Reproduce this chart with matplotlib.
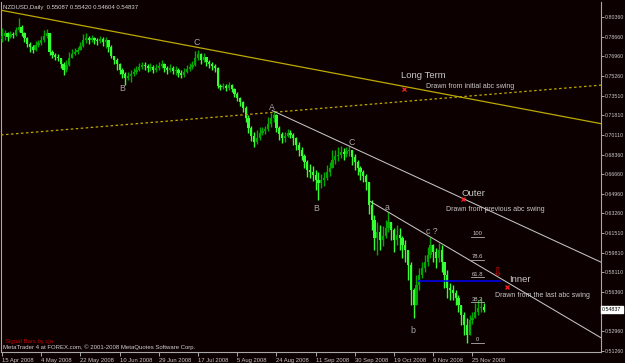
import matplotlib
matplotlib.use('Agg')
import matplotlib.pyplot as plt
import matplotlib.transforms as mtransforms
import numpy as np

# ---------------- data (NZDUSD daily) ----------------
opens = [0.7850, 0.7873, 0.7899, 0.7864, 0.7890, 0.7881, 0.7925, 0.7951, 0.7899, 0.7855,
         0.7803, 0.7777, 0.7751, 0.7794, 0.7812, 0.7838, 0.7873, 0.7899, 0.7733, 0.7707,
         0.7689, 0.7681, 0.7628, 0.7576, 0.7620, 0.7681, 0.7716, 0.7733, 0.7751, 0.7785,
         0.7838, 0.7855, 0.7838, 0.7855, 0.7838, 0.7829, 0.7847, 0.7820, 0.7838, 0.7777,
         0.7698, 0.7663, 0.7628, 0.7576, 0.7541, 0.7506, 0.7524, 0.7541, 0.7559, 0.7576,
         0.7602, 0.7620, 0.7611, 0.7593, 0.7602, 0.7576, 0.7593, 0.7611, 0.7628, 0.7593,
         0.7576, 0.7593, 0.7567, 0.7576, 0.7550, 0.7532, 0.7559, 0.7585, 0.7602, 0.7620,
         0.7681, 0.7716, 0.7663, 0.7689, 0.7646, 0.7628, 0.7611, 0.7593, 0.7436, 0.7428,
         0.7436, 0.7419, 0.7445, 0.7410, 0.7367, 0.7332, 0.7297, 0.7244, 0.7157, 0.7070,
         0.7000, 0.6947, 0.6982, 0.7026, 0.7043, 0.7061, 0.7104, 0.7157, 0.7183, 0.7070,
         0.7017, 0.6982, 0.7000, 0.7026, 0.7009, 0.6982, 0.6921, 0.6877, 0.6825, 0.6773,
         0.6703, 0.6685, 0.6659, 0.6616, 0.6589, 0.6616, 0.6633, 0.6685, 0.6720, 0.6790,
         0.6825, 0.6834, 0.6860, 0.6843, 0.6869, 0.6877, 0.6816, 0.6773, 0.6720, 0.6685,
         0.6651, 0.6598, 0.6397, 0.6266, 0.6109, 0.6162, 0.6092, 0.6127, 0.6197, 0.6249,
         0.6179, 0.6092, 0.6135, 0.6109, 0.6048, 0.6005, 0.5874, 0.5655, 0.5524, 0.5699,
         0.5786, 0.5847, 0.5900, 0.5961, 0.6048, 0.5987, 0.5935, 0.6005, 0.5900, 0.5786,
         0.5673, 0.5655, 0.5629, 0.5585, 0.5524, 0.5437, 0.5350, 0.5263, 0.5394, 0.5411,
         0.5463, 0.5498, 0.55087]

highs = [0.7943, 0.7925, 0.7908, 0.7916, 0.7908, 0.7951, 0.8030, 0.7969, 0.7908, 0.7864,
         0.7820, 0.7794, 0.7829, 0.7838, 0.7873, 0.7925, 0.7934, 0.7899, 0.7751, 0.7724,
         0.7716, 0.7681, 0.7646, 0.7663, 0.7733, 0.7759, 0.7768, 0.7777, 0.7820, 0.7890,
         0.7899, 0.7873, 0.7881, 0.7864, 0.7855, 0.7873, 0.7864, 0.7864, 0.7820, 0.7794,
         0.7698, 0.7681, 0.7637, 0.7593, 0.7559, 0.7559, 0.7576, 0.7593, 0.7611, 0.7637,
         0.7646, 0.7646, 0.7628, 0.7637, 0.7620, 0.7628, 0.7646, 0.7663, 0.7637, 0.7611,
         0.7628, 0.7611, 0.7611, 0.7593, 0.7576, 0.7593, 0.7620, 0.7637, 0.7655, 0.7742,
         0.7751, 0.7724, 0.7724, 0.7689, 0.7663, 0.7646, 0.7628, 0.7602, 0.7454, 0.7462,
         0.7454, 0.7471, 0.7454, 0.7419, 0.7384, 0.7340, 0.7305, 0.7262, 0.7183, 0.7087,
         0.7035, 0.7052, 0.7078, 0.7078, 0.7087, 0.7166, 0.7200, 0.7218, 0.7192, 0.7087,
         0.7035, 0.7035, 0.7061, 0.7052, 0.7026, 0.6991, 0.6947, 0.6904, 0.6843, 0.6790,
         0.6755, 0.6738, 0.6703, 0.6685, 0.6668, 0.6685, 0.6747, 0.6773, 0.6877, 0.6877,
         0.6904, 0.6912, 0.6895, 0.6904, 0.6912, 0.6877, 0.6843, 0.6790, 0.6738, 0.6703,
         0.6668, 0.6598, 0.6441, 0.6310, 0.6249, 0.6223, 0.6214, 0.6266, 0.6336, 0.6249,
         0.6197, 0.6223, 0.6197, 0.6127, 0.6092, 0.6005, 0.5900, 0.5673, 0.5786, 0.5847,
         0.5900, 0.5961, 0.6031, 0.6118, 0.6057, 0.6022, 0.6066, 0.6048, 0.5900, 0.5830,
         0.5716, 0.5699, 0.5655, 0.5612, 0.5524, 0.5463, 0.5411, 0.5437, 0.5463, 0.5542,
         0.5568, 0.5585, 0.55420]

lows = [0.7820, 0.7838, 0.7829, 0.7855, 0.7855, 0.7873, 0.7908, 0.7873, 0.7820, 0.7777,
        0.7733, 0.7724, 0.7742, 0.7777, 0.7794, 0.7820, 0.7855, 0.7707, 0.7681, 0.7663,
        0.7655, 0.7593, 0.7532, 0.7559, 0.7611, 0.7681, 0.7707, 0.7716, 0.7751, 0.7777,
        0.7812, 0.7803, 0.7820, 0.7803, 0.7794, 0.7812, 0.7785, 0.7768, 0.7733, 0.7681,
        0.7628, 0.7576, 0.7541, 0.7506, 0.7445, 0.7489, 0.7471, 0.7524, 0.7541, 0.7567,
        0.7585, 0.7576, 0.7559, 0.7567, 0.7550, 0.7559, 0.7576, 0.7593, 0.7559, 0.7541,
        0.7559, 0.7541, 0.7532, 0.7515, 0.7506, 0.7515, 0.7550, 0.7567, 0.7585, 0.7611,
        0.7663, 0.7628, 0.7646, 0.7611, 0.7593, 0.7576, 0.7559, 0.7419, 0.7401, 0.7410,
        0.7393, 0.7401, 0.7384, 0.7340, 0.7305, 0.7262, 0.7209, 0.7122, 0.7026, 0.6956,
        0.6904, 0.6930, 0.6965, 0.7009, 0.7017, 0.7043, 0.7078, 0.7122, 0.7035, 0.6965,
        0.6939, 0.6947, 0.6991, 0.6982, 0.6921, 0.6877, 0.6825, 0.6790, 0.6720, 0.6642,
        0.6633, 0.6607, 0.6528, 0.6441, 0.6546, 0.6563, 0.6616, 0.6651, 0.6720, 0.6755,
        0.6782, 0.6808, 0.6790, 0.6816, 0.6825, 0.6747, 0.6703, 0.6659, 0.6616, 0.6598,
        0.6528, 0.6319, 0.6179, 0.6005, 0.5961, 0.6005, 0.6039, 0.6109, 0.6162, 0.6092,
        0.5987, 0.6048, 0.6005, 0.5935, 0.5900, 0.5743, 0.5524, 0.5411, 0.5524, 0.5655,
        0.5760, 0.5812, 0.5865, 0.5935, 0.5900, 0.5847, 0.5900, 0.5812, 0.5673, 0.5585,
        0.5568, 0.5568, 0.5524, 0.5463, 0.5350, 0.5263, 0.5193, 0.5306, 0.5359, 0.5411,
        0.5437, 0.5463, 0.54604]

closes = [0.7873, 0.7899, 0.7864, 0.7890, 0.7881, 0.7925, 0.7951, 0.7899, 0.7855, 0.7803,
          0.7777, 0.7751, 0.7794, 0.7812, 0.7838, 0.7873, 0.7899, 0.7733, 0.7707, 0.7689,
          0.7681, 0.7628, 0.7576, 0.7620, 0.7681, 0.7716, 0.7733, 0.7751, 0.7785, 0.7838,
          0.7855, 0.7838, 0.7855, 0.7838, 0.7829, 0.7847, 0.7820, 0.7838, 0.7777, 0.7698,
          0.7663, 0.7628, 0.7576, 0.7541, 0.7506, 0.7524, 0.7541, 0.7559, 0.7576, 0.7602,
          0.7620, 0.7611, 0.7593, 0.7602, 0.7576, 0.7593, 0.7611, 0.7628, 0.7593, 0.7576,
          0.7593, 0.7567, 0.7576, 0.7550, 0.7532, 0.7559, 0.7585, 0.7602, 0.7620, 0.7681,
          0.7716, 0.7663, 0.7689, 0.7646, 0.7628, 0.7611, 0.7593, 0.7436, 0.7428, 0.7436,
          0.7419, 0.7445, 0.7410, 0.7367, 0.7332, 0.7297, 0.7244, 0.7157, 0.7070, 0.7000,
          0.6947, 0.6982, 0.7026, 0.7043, 0.7061, 0.7104, 0.7157, 0.7183, 0.7070, 0.7017,
          0.6982, 0.7000, 0.7026, 0.7009, 0.6982, 0.6921, 0.6877, 0.6825, 0.6773, 0.6703,
          0.6685, 0.6659, 0.6616, 0.6589, 0.6616, 0.6633, 0.6685, 0.6720, 0.6790, 0.6825,
          0.6834, 0.6860, 0.6843, 0.6869, 0.6877, 0.6816, 0.6773, 0.6720, 0.6685, 0.6651,
          0.6598, 0.6397, 0.6266, 0.6109, 0.6162, 0.6092, 0.6127, 0.6197, 0.6249, 0.6179,
          0.6092, 0.6135, 0.6109, 0.6048, 0.6005, 0.5874, 0.5655, 0.5524, 0.5699, 0.5786,
          0.5847, 0.5900, 0.5961, 0.6048, 0.5987, 0.5935, 0.6005, 0.5900, 0.5786, 0.5673,
          0.5655, 0.5629, 0.5585, 0.5524, 0.5437, 0.5350, 0.5263, 0.5394, 0.5411, 0.5463,
          0.5498, 0.5509, 0.54837]

date_tick_bars = [0, 14, 28, 42, 56, 70, 84, 98, 112, 126, 140, 154, 168]
date_labels = ['15 Apr 2008', '4 May 2008', '22 May 2008', '10 Jun 2008', '29 Jun 2008',
               '17 Jul 2008', '5 Aug 2008', '24 Aug 2008', '11 Sep 2008', '30 Sep 2008',
               '19 Oct 2008', '6 Nov 2008', '25 Nov 2008']
price_ticks = [0.80360, 0.78660, 0.76960, 0.75260, 0.73510, 0.71810, 0.70110, 0.68360,
               0.66660, 0.64960, 0.63260, 0.61510, 0.59810, 0.58110, 0.56360, 0.52960, 0.51260]
last_price = 0.54837

# trend lines: two anchor points (bar, price)
long_term_line = [(0, 0.80965), (200, 0.71720)]
long_term_dotted = [(0, 0.7010), (200, 0.7416)]
outer_line = [(96.5, 0.7222), (124, 0.6912)]
inner_line = [(131.4, 0.6430), (153, 0.6118)]

fib_high = 0.6118
fib_low = 0.5193
fib_levels = [100, 78.6, 61.8, 38.2, 0]
fib_bars = (167.5, 172.1)
blue_level = 0.5737
blue_bars = (148.6, 177.9)

wave_labels = [('B', 42.9, 0.7419), ('C', 69.6, 0.7820), ('A', 96.4, 0.7250),
               ('B', 112.1, 0.6371), ('C', 125.0, 0.6947), ('a', 137.5, 0.6380),
               ('b', 146.8, 0.5306), ('c ?', 153.6, 0.6165)]
notes = [('Long Term', 150.4, 0.7524, 6.8), ('Drawn from initial abc swing', 167.1, 0.7428, 5.0),
         ('Outer', 168.2, 0.6502, 6.8), ('Drawn from previous abc swing', 176.1, 0.6362, 5.0),
         ('Inner', 185.0, 0.5743, 6.8), ('Drawn from the last abc swing', 192.9, 0.5603, 5.0)]
red_marks = [(143.6, 0.7410), (164.6, 0.6450), (180.4, 0.5682)]
arrow_pos = (176.8, 0.5805)

# ---------------- style ----------------
BG = '#0d0000'
UP = '#00a800'
DN = '#33ff33'
GRAY = '#a8a8a8'
TXT = '#c8c8c8'
YEL = '#bcaa00'

plt.rcParams['font.family'] = ['Liberation Sans', 'DejaVu Sans']

W, H = 625, 363
fig = plt.figure(figsize=(W / 100, H / 100), dpi=100)
fig.patch.set_facecolor(BG)
ax = fig.add_axes([1 / W, 11 / H, 600 / W, 350 / H])
ax.set_facecolor(BG)

o = np.array(opens)
c = np.array(closes)
h = np.maximum(np.array(highs), np.maximum(o, c))
l = np.minimum(np.array(lows), np.minimum(o, c))
x = np.arange(len(c))
up = c >= o

for mask, col in ((up, UP), (~up, DN)):
    ax.vlines(x[mask], l[mask], h[mask], color=col, lw=1.0, zorder=3)
    ax.bar(x[mask], (c - o)[mask], bottom=o[mask], width=0.8, color=col,
           linewidth=0, zorder=3)

ax.set_xlim(-0.36, 213.9)
ax.set_ylim(0.5114, 0.8170)

# long-term lines
ax.axline(long_term_line[0], long_term_line[1], color=YEL, lw=0.9, zorder=4)
ax.axline(long_term_dotted[0], long_term_dotted[1], color=YEL, lw=0.9,
          linestyle=(0, (2, 2)), zorder=4)

# rays
xr = 213.9
for (x0, y0), (x1, y1) in (outer_line, inner_line):
    s = (y1 - y0) / (x1 - x0)
    ax.plot([x0, xr], [y0, y0 + s * (xr - x0)], color='#c4c4c4', lw=0.75, zorder=4)

# fibonacci
for lev in fib_levels:
    p = fib_low + lev / 100 * (fib_high - fib_low)
    ax.plot(fib_bars, [p, p], color='#b0b0b0', lw=0.6, zorder=5)
    ax.text(sum(fib_bars) / 2, p + 0.0006, '%g' % lev, fontsize=4.2, color=TXT,
            ha='center', va='bottom', zorder=6)

ax.plot(blue_bars, [blue_level, blue_level], color='#0000ff', lw=1.1, zorder=5)

for t, bx, py in wave_labels:
    ax.text(bx, py, t, fontsize=6.3, color=GRAY, ha='center', va='center', zorder=6)
for t, bx, py, fs in notes:
    ax.text(bx, py, t, fontsize=fs, color=TXT, ha='center', va='center', zorder=6)
for bx, py in red_marks:
    ax.plot(bx, py, marker='x', color='#ff2020', ms=3, mew=0.9, zorder=7)
ax.text(arrow_pos[0], arrow_pos[1], '\u21e9', fontsize=8.5, color='#e00000',
        family='DejaVu Sans', ha='center', va='center', zorder=7)

# axes styling
for side in ('left', 'bottom', 'right'):
    ax.spines[side].set_color(GRAY)
    ax.spines[side].set_linewidth(0.8)
ax.spines['top'].set_visible(False)

ax.yaxis.tick_right()
ax.set_yticks(price_ticks)
ax.set_yticklabels(['%.5f' % v for v in price_ticks])
ax.tick_params(axis='y', length=2.0, width=0.7, colors=GRAY, labelsize=3.8,
               labelcolor=TXT, pad=0.6)
ax.set_xticks(date_tick_bars)
ax.set_xticklabels(date_labels)
for lbl in ax.get_xticklabels():
    lbl.set_ha('left')
ax.tick_params(axis='x', length=3, width=0.7, colors=GRAY, labelsize=4.2,
               labelcolor=TXT, pad=1)

# last price box
trans = mtransforms.blended_transform_factory(ax.transAxes, ax.transData)
ax.text(1.002, last_price, '%.5f' % last_price, transform=trans, fontsize=3.8,
        color='black', ha='left', va='center', clip_on=False, zorder=8,
        bbox=dict(boxstyle='square,pad=0.2', fc='white', ec='white'))

fig.text(3 / W, 1 - 7 / H, 'NZDUSD,Daily  0.55087 0.55420 0.54604 0.54837',
         fontsize=4.3, color='#d8d8d8', ha='left', va='center')
fig.text(5 / W, 1 - 341.5 / H, 'Signal Bars by cja', fontsize=4.3, color='#c00000',
         ha='left', va='center')
fig.text(3 / W, 1 - 347 / H,
         'MetaTrader 4 at FOREX.com, \u00a9 2001-2008 MetaQuotes Software Corp.',
         fontsize=4.3, color='#d0d0d0', ha='left', va='center')

fig.savefig('out.png', dpi=100, facecolor=BG)
